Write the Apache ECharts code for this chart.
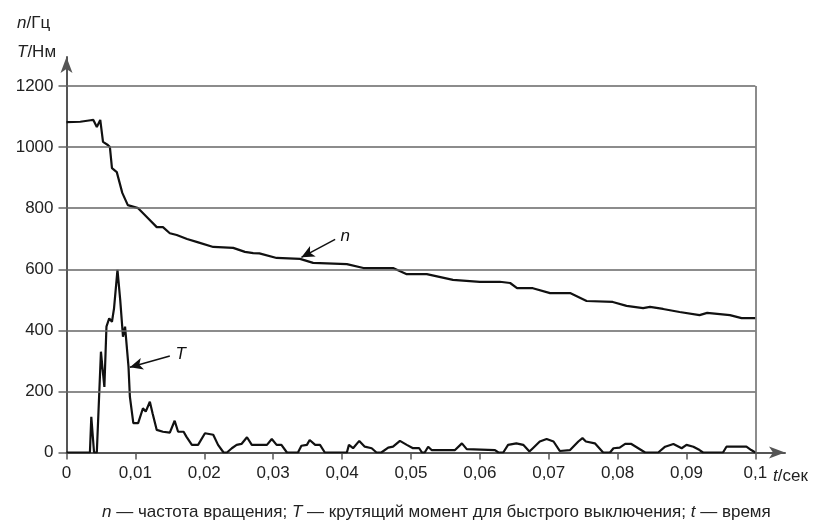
<!DOCTYPE html>
<html><head><meta charset="utf-8">
<script src="https://cdn.jsdelivr.net/npm/echarts@6/dist/echarts.min.js"></script>
<style>html,body{margin:0;padding:0;background:#fff}#c{width:823px;height:527px}</style>
</head><body><div id="c"></div>
<script>
// n (speed) curve
const tN = [0,0.002,0.0035,0.0039,0.0044,0.0049,0.0053,0.006,0.0063,0.0066,0.0073,0.0081,0.0089,0.0104,0.0118,0.0131,0.014,0.015,0.016,0.0175,0.019,0.0213,0.0242,0.0259,0.0271,0.028,0.0305,0.0339,0.0358,0.0407,0.0431,0.0474,0.0494,0.0523,0.0561,0.06,0.0629,0.0644,0.0654,0.0677,0.0702,0.0731,0.0755,0.0793,0.0813,0.0837,0.0847,0.0866,0.089,0.0919,0.093,0.0963,0.098,0.1];
const vN = [1082,1083,1088,1089,1066,1089,1017,1007,1000,931,918,850,810,800,768,738,738,718,712,699,689,673,670,657,653,652,637,634,621,617,604,604,584,584,565,559,559,555,538,538,522,522,496,493,480,473,477,470,460,450,457,450,440,440];
// T (torque) curve
const tT = [0,0.0034,0.0036,0.004,0.0044,0.005,0.0052,0.0055,0.0058,0.0062,0.0066,0.0069,0.0074,0.0078,0.0082,0.0085,0.0087,0.009,0.0092,0.0097,0.0104,0.0111,0.0115,0.0121,0.0125,0.0131,0.014,0.015,0.0157,0.0162,0.017,0.0174,0.0182,0.0191,0.0201,0.0213,0.022,0.0228,0.0233,0.024,0.0247,0.0254,0.0262,0.0269,0.0291,0.0298,0.0305,0.0312,0.032,0.0336,0.0341,0.0349,0.0353,0.0361,0.0368,0.0375,0.0407,0.041,0.0416,0.0425,0.0433,0.0443,0.045,0.0457,0.0467,0.0474,0.0484,0.0494,0.0503,0.0512,0.0516,0.052,0.0525,0.053,0.0564,0.0574,0.0581,0.0622,0.0627,0.0634,0.0641,0.0653,0.0663,0.0672,0.0677,0.0687,0.0697,0.0707,0.0716,0.0731,0.0743,0.0749,0.0754,0.0767,0.0779,0.0789,0.0794,0.0803,0.0811,0.082,0.083,0.084,0.0859,0.0869,0.0881,0.0893,0.09,0.091,0.0919,0.0924,0.0953,0.0958,0.0987,0.0994,0.1];
const vT = [0,0,117,0,0,330,281,215,412,439,428,472,598,499,379,412,408,281,183,96,96,145,134,166,128,74,68,65,104,68,68,52,25,25,63,58,25,0,0,14,25,28,50,25,25,44,25,25,0,0,22,25,41,25,25,0,0,25,14,38,19,14,0,0,16,19,38,25,14,14,0,0,19,8,8,30,11,8,0,0,25,30,25,3,14,36,44,36,5,8,36,47,36,30,0,0,14,16,28,28,14,0,0,19,28,14,25,19,8,0,0,19,19,8,0];
// axes
const xTicks = [0,0.01,0.02,0.03,0.04,0.05,0.06,0.07,0.08,0.09,0.1];
const yTicks = [0,200,400,600,800,1000,1200];
const xMax = 0.1043, yMax = 1295;
// annotations: tail, tip, label
const arrowN = {from:[0.039,698], to:[0.0341,639], text:'n'};
const arrowT = {from:[0.015,316], to:[0.0092,279], text:'T'};

const FONT = 'Liberation Sans, Arial, sans-serif';
const zip = (a,b)=>a.map((t,i)=>[t,b[i]]);
const gridLines = yTicks.filter(v=>v>0).map(v=>[{coord:[0,v]},{coord:[0.1,v]}]);
gridLines.push([{coord:[0.1,0]},{coord:[0.1,1200]}]);
const fmtX = v => v===0 ? '0' : String(+(+v).toFixed(2)).replace('.', ',');
const arrowML = a => ({
  silent:true, symbol:['none','arrow'], symbolSize:[9,13],
  lineStyle:{color:'#111', width:1.5, type:'solid'},
  label:{show:true, position:'start', distance:6, formatter:a.text, fontFamily:FONT, fontStyle:'italic', fontSize:17, color:'#111'},
  data:[[{coord:a.from},{coord:a.to}]]
});

const chart = echarts.init(document.getElementById('c'));
chart.setOption({
  animation:false,
  backgroundColor:'#fff',
  title:[
    {text:'{i|n}/Гц\n{i|T}/Нм', left:12, top:4,
     textStyle:{fontFamily:FONT, fontSize:17, fontWeight:'normal', color:'#222', lineHeight:29,
       rich:{i:{fontFamily:FONT, fontSize:17, fontStyle:'italic', color:'#222', lineHeight:29}}}},
    {text:'{i|n} — частота вращения; {i|T} — крутящий момент для быстрого выключения; {i|t} — время', left:97, bottom:1,
     textStyle:{fontFamily:FONT, fontSize:17, fontWeight:'normal', color:'#222',
       rich:{i:{fontFamily:FONT, fontSize:17, fontStyle:'italic', color:'#222'}}}}
  ],
  grid:{left:66.5, right:38, top:57, bottom:74.5},
  xAxis:{type:'value', min:0, max:xMax,
    name:'{i|t}/сек', nameLocation:'end', nameGap:-13,
    nameTextStyle:{fontFamily:FONT, fontSize:17, color:'#222', verticalAlign:'top', padding:[15,0,0,0],
      rich:{i:{fontFamily:FONT, fontSize:17, fontStyle:'italic', color:'#222'}}},
    axisLine:{show:true, symbol:['none','arrow'], symbolSize:[9,16], lineStyle:{color:'#555', width:2}},
    axisTick:{show:true, customValues:xTicks, length:7, inside:false, lineStyle:{color:'#555', width:1.5}},
    axisLabel:{customValues:xTicks, formatter:fmtX, fontFamily:FONT, fontSize:17, color:'#222', margin:12},
    splitLine:{show:false}},
  yAxis:{type:'value', min:0, max:yMax,
    axisLine:{show:true, symbol:['none','arrow'], symbolSize:[9,16], lineStyle:{color:'#555', width:2}},
    axisTick:{show:true, customValues:yTicks, length:8, lineStyle:{color:'#666', width:1.5}},
    axisLabel:{customValues:yTicks, formatter:v=>String(v), fontFamily:FONT, fontSize:17, color:'#222', margin:13},
    splitLine:{show:false}},
  series:[
    {type:'line', data:[], z:1, silent:true,
     markLine:{silent:true, symbol:['none','none'], label:{show:false},
       lineStyle:{color:'#666', width:1.5, type:'solid'}, data:gridLines}},
    {name:'n', type:'line', data:zip(tN,vN), z:3, showSymbol:false, lineStyle:{color:'#111', width:2.2}, markLine:arrowML(arrowN)},
    {name:'T', type:'line', data:zip(tT,vT), z:3, showSymbol:false, lineStyle:{color:'#111', width:2.2}, markLine:arrowML(arrowT)}
  ]
});
</script></body></html>
